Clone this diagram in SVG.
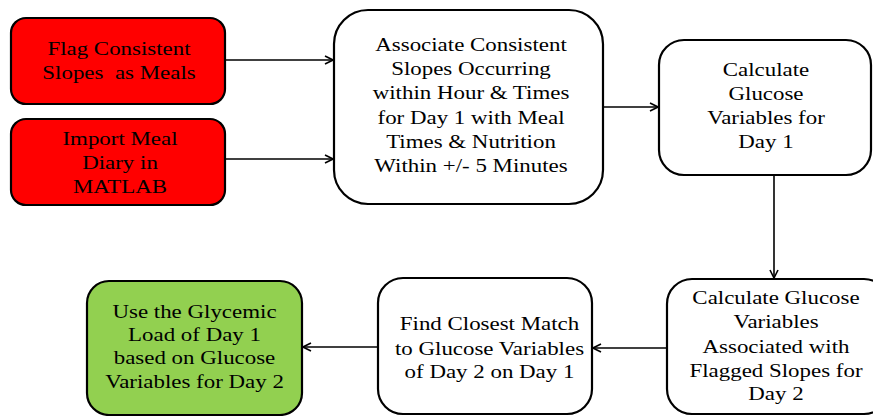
<svg xmlns="http://www.w3.org/2000/svg" width="873" height="416" viewBox="0 0 873 416">
<style>
.box{stroke:#000;stroke-width:2.2}
.red{fill:#FF0000}
.green{fill:#92D050}
.white{fill:#FFFFFF}
.conn{stroke:#000;stroke-width:1.6;fill:none;marker-end:url(#arr)}
</style>
<defs>
<marker id="arr" viewBox="0 0 10 10" refX="9" refY="5" markerWidth="10" markerHeight="10" markerUnits="userSpaceOnUse" orient="auto">
<path d="M1,1 L9,5 L1,9" fill="none" stroke="#000" stroke-width="1.6"/>
</marker>
</defs>
<rect width="873" height="416" fill="#fff"/>
<g id="connectors">
<line class="conn" x1="225" y1="60" x2="333" y2="60"/>
<line class="conn" x1="225" y1="159" x2="333" y2="159"/>
<line class="conn" x1="603" y1="107" x2="658" y2="107"/>
<line class="conn" x1="774" y1="175" x2="774" y2="278"/>
<line class="conn" x1="667" y1="348" x2="593" y2="348"/>
<line class="conn" x1="378" y1="347" x2="303" y2="347"/>
</g>
<g id="flag">
<rect class="box red" x="11" y="18" width="214" height="86" rx="15"/>
<g transform="translate(119,0) scale(1.175,1)" font-family="Liberation Serif, serif" font-size="19.5" text-anchor="middle" fill="#000">
<text x="0" y="55">Flag Consistent</text>
<text x="0" y="79" xml:space="preserve">Slopes  as Meals</text>
</g>
</g>
<g id="import">
<rect class="box red" x="11" y="119" width="214" height="86" rx="15"/>
<g transform="translate(120,0) scale(1.175,1)" font-family="Liberation Serif, serif" font-size="19.5" text-anchor="middle" fill="#000">
<text x="0" y="145">Import Meal</text>
<text x="0" y="169">Diary in</text>
<text x="0" y="193">MATLAB</text>
</g>
</g>
<g id="associate">
<rect class="box white" x="334" y="10" width="269" height="194" rx="34"/>
<g transform="translate(471,0) scale(1.175,1)" font-family="Liberation Serif, serif" font-size="19.5" text-anchor="middle" fill="#000">
<text x="0" y="51">Associate Consistent</text>
<text x="0" y="75">Slopes Occurring</text>
<text x="0" y="99.5">within Hour &amp; Times</text>
<text x="0" y="124">for Day 1 with Meal</text>
<text x="0" y="148">Times &amp; Nutrition</text>
<text x="0" y="172">Within +/- 5 Minutes</text>
</g>
</g>
<g id="calc1">
<rect class="box white" x="659" y="40" width="212" height="135" rx="25"/>
<g transform="translate(766,0) scale(1.175,1)" font-family="Liberation Serif, serif" font-size="19.5" text-anchor="middle" fill="#000">
<text x="0" y="76">Calculate</text>
<text x="0" y="100">Glucose</text>
<text x="0" y="124">Variables for</text>
<text x="0" y="148">Day 1</text>
</g>
</g>
<g id="calc2">
<rect class="box white" x="667" y="279" width="222" height="135" rx="25"/>
<g transform="translate(776,0) scale(1.175,1)" font-family="Liberation Serif, serif" font-size="19.5" text-anchor="middle" fill="#000">
<text x="0" y="304">Calculate Glucose</text>
<text x="0" y="328">Variables</text>
<text x="0" y="353">Associated with</text>
<text x="0" y="377">Flagged Slopes for</text>
<text x="0" y="400">Day 2</text>
</g>
</g>
<g id="match">
<rect class="box white" x="378" y="278" width="214" height="136" rx="25"/>
<g transform="translate(489.5,0) scale(1.175,1)" font-family="Liberation Serif, serif" font-size="19.5" text-anchor="middle" fill="#000">
<text x="0" y="330">Find Closest Match</text>
<text x="0" y="355">to Glucose Variables</text>
<text x="0" y="378">of Day 2 on Day 1</text>
</g>
</g>
<g id="glycemic">
<rect class="box green" x="87" y="281" width="215" height="134" rx="22"/>
<g transform="translate(194.5,0) scale(1.175,1)" font-family="Liberation Serif, serif" font-size="19.5" text-anchor="middle" fill="#000">
<text x="0" y="318">Use the Glycemic</text>
<text x="0" y="341">Load of Day 1</text>
<text x="0" y="364">based on Glucose</text>
<text x="0" y="388">Variables for Day 2</text>
</g>
</g>
</svg>
